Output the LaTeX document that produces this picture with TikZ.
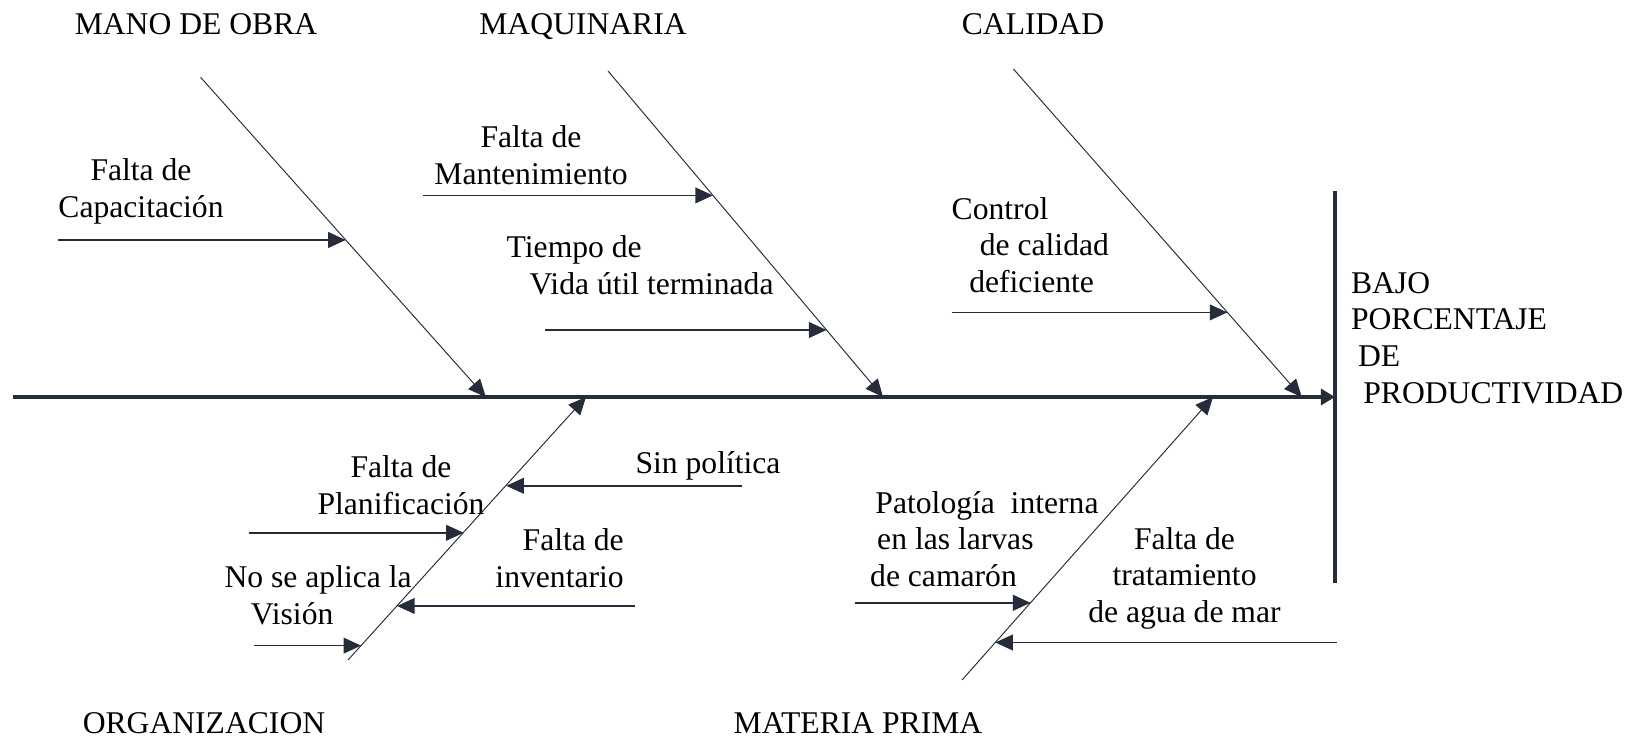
\documentclass[tikz,border=0pt]{standalone}
\usepackage{fontspec}
\setmainfont{Liberation Serif}
\usetikzlibrary{arrows.meta}
\definecolor{espina}{RGB}{38,44,58}

\begin{document}
\begin{tikzpicture}[x=0.02cm,y=-0.02cm,
  every node/.style={font=\fontsize{18}{20.8}\selectfont, inner sep=0pt, outer sep=0pt},
  causa/.style={anchor=base},
  texto/.style={align=center},
  hueso/.style={draw=espina, line width=0.55pt, -{Triangle[length=10pt,width=9pt]}},
  flecha/.style={draw=espina, line width=0.8pt, -{Triangle[length=10pt,width=9pt]}},
  eje/.style={draw=espina, line width=2.2pt}]
  \useasboundingbox (0,0) rectangle (1638,739);
  % espina central
  \coordinate (cola) at (12.5,397);
  \coordinate (cabeza) at (1335,397);
  \coordinate (barra1) at (1335,191);
  \coordinate (barra2) at (1335,583);
  \draw[eje, -{Triangle[length=8pt,width=9pt]}] (cola) -- (cabeza);
  \draw[eje] (barra1) -- (barra2);
  \node[align=left, anchor=west] (efecto) at (1351,338) {BAJO\\PORCENTAJE\\\hspace*{4pt}DE\\\hspace*{7pt}PRODUCTIVIDAD};
  % categorias
  \node[causa] (manoobra) at (196,35) {MANO DE OBRA};
  \node[causa] (maquinaria) at (583,35) {MAQUINARIA};
  \node[causa] (calidad) at (1033,35) {CALIDAD};
  \node[causa] (organizacion) at (204,733) {ORGANIZACION};
  \node[causa] (materia) at (858,733) {MATERIA PRIMA};
  % huesos
  \coordinate (mo1) at (200.6,77.3);
  \coordinate (mo2) at (485.8,397);
  \coordinate (ma1) at (608,71);
  \coordinate (ma2) at (883,397);
  \coordinate (ca1) at (1013.4,69);
  \coordinate (ca2) at (1301.7,397);
  \coordinate (or1) at (348,660);
  \coordinate (or2) at (586,397);
  \coordinate (mp1) at (962,680);
  \coordinate (mp2) at (1213,397);
  \draw[hueso] (mo1) -- (mo2);
  \draw[hueso] (ma1) -- (ma2);
  \draw[hueso] (ca1) -- (ca2);
  \draw[hueso] (or1) -- (or2);
  \draw[hueso] (mp1) -- (mp2);
  % subcausas
  \coordinate (s1a) at (57.5,240);   \coordinate (s1b) at (345.7,240);
  \coordinate (s2a) at (423,195.4);  \coordinate (s2b) at (712.9,195.4);
  \coordinate (s3a) at (545,330);    \coordinate (s3b) at (826.5,330);
  \coordinate (s4a) at (951.7,312.4); \coordinate (s4b) at (1227.3,312.4);
  \coordinate (s5a) at (741.7,485.8); \coordinate (s5b) at (506.3,485.8);
  \coordinate (s6a) at (248.6,532.8); \coordinate (s6b) at (463.6,532.8);
  \coordinate (s7a) at (635,606);    \coordinate (s7b) at (397.1,606);
  \coordinate (s8a) at (253.9,645.6); \coordinate (s8b) at (361.1,645.6);
  \coordinate (s9a) at (854.6,602.8); \coordinate (s9b) at (1030.5,602.8);
  \coordinate (s10a) at (1337,642.5); \coordinate (s10b) at (995.3,642.5);
  \foreach \i in {1,...,10}
    \draw[flecha] (s\i a) -- (s\i b);
  \node[texto] (capacitacion) at (141,191.5) {Falta de\\Capacitación};
  \node[texto] (mantenimiento) at (531,155) {Falta de\\Mantenimiento};
  \node[align=left, anchor=west] (vidautil) at (506.7,265.5) {Tiempo de\\\hspace*{13pt}Vida útil terminada};
  \node[align=left, anchor=west] (control) at (951.7,245) {Control\\\hspace*{16pt}de calidad\\\hspace*{10pt}deficiente};
  \node (politica) at (708,466) {Sin política};
  \node[texto] (planificacion) at (401,485) {Falta de\\Planificación};
  \node[align=right, anchor=east] (inventario) at (623.7,558) {Falta de\\inventario};
  \node[align=left, anchor=west] (vision) at (224.6,595) {No se aplica la\\\hspace*{15pt}Visión};
  \node[align=left, anchor=west] (patologia) at (870.2,539) {\hspace*{3pt}Patología\ \ interna\\\hspace*{4pt}en las larvas\\de camarón};
  \node[texto] (tratamiento) at (1184.5,578) {Falta de\\tratamiento\\de agua de mar};
\end{tikzpicture}
\end{document}
